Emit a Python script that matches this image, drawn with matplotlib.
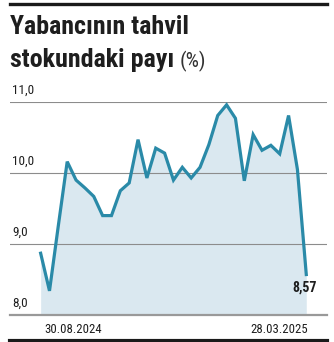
import numpy as np
import matplotlib.pyplot as plt
from matplotlib import font_manager

# =====================
# data
values = [8.87, 8.34, 9.26, 10.16, 9.90, 9.79, 9.67, 9.40, 9.40, 9.75,
          9.86, 10.47, 9.93, 10.35, 10.28, 9.90, 10.08, 9.93, 10.08, 10.40,
          10.81, 10.96, 10.77, 9.89, 10.54, 10.32, 10.39, 10.27, 10.81, 10.05,
          8.57]
yticks = [8.0, 9.0, 10.0, 11.0]
ytick_labels = ['8,0', '9,0', '10,0', '11,0']
date_labels = ['30.08.2024', '28.03.2025']
last_label = '8,57'

# pick a narrow family if one is there
names = {f.name for f in font_manager.fontManager.ttflist}
narrow = 'Roboto'
for cand in ['Roboto Condensed', 'Liberation Sans Narrow', 'DejaVu Sans Condensed']:
    if cand in names:
        narrow = cand
        break
is_condensed = narrow != 'Roboto'

line_col = '#2a8aa8'
fill_col = '#dae8f0'
text_col = '#1e1e1e'

W, H = 334, 342
fig = plt.figure(figsize=(W / 100, H / 100), dpi=100)

# axes placed in pixel terms
left, right, top, bottom = 10, 327, 102, 315
ax = fig.add_axes([left / W, 1 - bottom / H, (right - left) / W, (bottom - top) / H])

x = np.arange(len(values))
ax.fill_between(x, values, 8.0, color=fill_col, lw=0)
ax.plot(x, values, color=line_col, lw=2.3, solid_joinstyle='miter', clip_on=False, zorder=3)

ax.set_xlim(-3.46, 32.34)
ax.set_ylim(8.0, 11.0)

for yv in yticks[1:]:
    ax.axhline(yv, color='#8c8c8c', lw=0.8, zorder=1)
ax.axhline(8.0, color='#999999', lw=1.6, zorder=4, clip_on=False)

tick_fs = 9.5 if is_condensed else 8.5
for yv, lab in zip(yticks, ytick_labels):
    ax.annotate(lab, xy=(0, yv), xycoords=('axes fraction', 'data'),
                xytext=(1.5, 4), textcoords='offset points',
                ha='left', va='bottom', fontsize=tick_fs, family=narrow, color=text_col)

ax.annotate(date_labels[0], xy=(0, 8.0), xytext=(3, -6), textcoords='offset points',
            ha='left', va='top', fontsize=tick_fs - 0.3, family=narrow, color=text_col)
ax.annotate(date_labels[1], xy=(len(values) - 1, 8.0), xytext=(1, -6), textcoords='offset points',
            ha='right', va='top', fontsize=tick_fs - 0.3, family=narrow, color=text_col)
ax.annotate(last_label, xy=(len(values) - 1, values[-1]), xytext=(-1, -4), textcoords='offset points',
            ha='center', va='top', fontsize=tick_fs + 0.5, family=narrow, weight='bold', color=text_col)

ax.set_xticks([])
ax.set_yticks([])
for s in ax.spines.values():
    s.set_visible(False)
ax.patch.set_alpha(0)

# top and bottom black rules
fig.add_artist(plt.Line2D([left / W, right / W], [1 - 3.5 / H] * 2, color='#1a1a1a', lw=2.4))
fig.add_artist(plt.Line2D([left / W, right / W], [1 - 340.5 / H] * 2, color='#1a1a1a', lw=3.0))

# title
title_fs = 18.7 if is_condensed else 15.5
fig.text(left / W, 1 - 34 / H, 'Yabancının tahvil', ha='left', va='baseline',
         fontsize=title_fs, weight='heavy', family=narrow, color=text_col)
t2 = fig.text(left / W, 1 - 67 / H, 'stokundaki payı', ha='left', va='baseline',
              fontsize=title_fs, weight='heavy', family=narrow, color=text_col)
fig.canvas.draw()
bb = t2.get_window_extent()
fig.text((bb.x1 + 5) / W, 1 - 67 / H, '(%)', ha='left', va='baseline',
         fontsize=15, family=narrow, color='#333333')

fig.savefig('out.png', dpi=100)
